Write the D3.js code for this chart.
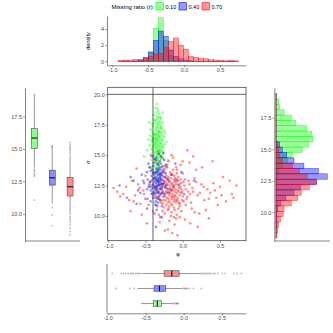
<!DOCTYPE html>
<html>
<head>
<meta charset="utf-8">
<script src="https://cdn.jsdelivr.net/npm/d3@7"></script>
<style>
body { margin: 0; background: #fff; }
</style>
</head>
<body>
<div id="chart-area"></div>
<script>

// ---- data ----

var groups = ["0.10", "0.40", "0.70"];
var groupColors = ["#00ff00", "#0000ff", "#ff0000"];

// top histogram of phi: density per bin, bins of 0.07 starting at -0.92
var phiBinStart = -0.92, phiBinWidth = 0.07;
var phiDensGreen = [0,0,0,0,0,0.15,1.25,4.1,5.4,2.6,0.7,0.1,0,0,0,0,0,0,0,0,0,0,0,0];
var phiDensBlue  = [0,0.03,0,0.03,0.1,0.5,1.1,2.6,3.75,3.1,1.4,0.6,0.3,0.15,0.05,0,0,0,0,0,0,0,0,0];
var phiDensRed   = [0.1,0.15,0.15,0.2,0.25,0.4,0.6,0.9,1.0,1.75,2.45,2.9,2.0,1.5,0.6,0.45,0.35,0.3,0.2,0.15,0.1,0.05,0.1,0.05];

// right histogram of sigma: density per bin (bottom up), bins of 0.424 starting at 7.96
var sigBinStart = 7.96, sigBinWidth = 0.424;
var sigDensGreen = [0,0,0,0,0,0,0,0,0,0.005,0.01,0.01,0.03,0.07,0.13,0.18,0.29,0.365,0.41,0.40,0.34,0.22,0.17,0.09,0.04,0.03,0.01];
var sigDensBlue  = [0,0,0.01,0.01,0.01,0.02,0.05,0.11,0.20,0.27,0.45,0.57,0.47,0.31,0.20,0.12,0.07,0.04,0,0,0,0,0,0,0,0,0];
var sigDensRed   = [0.01,0.02,0.03,0.05,0.08,0.09,0.17,0.24,0.28,0.37,0.45,0.35,0.26,0.18,0.07,0.04,0.03,0.02,0,0,0,0,0,0,0,0,0];

// boxplot of sigma (left): [lower whisker, q1, median, q3, upper whisker]
var sigBoxGreen = [13.57, 15.03, 15.84, 16.56, 18.93];
var sigBoxBlue  = [10.82, 12.22, 12.78, 13.37, 15.05];
var sigBoxRed   = [9.92, 11.38, 12.09, 12.81, 14.46];
var sigOutGreen = [19.0, 19.1, 19.2, 13.45, 13.35, 13.25, 13.1, 13.0, 12.9, 11.07];
var sigOutBlue  = [15.12, 15.17, 15.22, 10.48, 9.92, 9.1];
var sigOutRed   = [14.6, 14.75, 14.9, 15.0, 15.1, 15.2, 15.35, 15.5, 9.8, 9.65, 9.5, 9.35, 9.15, 8.9, 8.65, 8.4];

// boxplot of phi (bottom)
var phiBoxGreen = [-0.545, -0.40, -0.347, -0.294, -0.156];
var phiBoxBlue  = [-0.61, -0.39, -0.32, -0.235, -0.02];
var phiBoxRed   = [-0.55, -0.258, -0.156, -0.06, 0.23];
var phiOutGreen = [-0.55, -0.15, -0.13, -0.12, -0.10, -0.09, -0.08, -0.07];
var phiOutBlue  = [-0.89, -0.71, -0.65, -0.01, 0.01, 0.02, 0.04, 0.05, 0.08, 0.13, 0.23];
var phiOutRed   = [-0.94, -0.82, -0.79, -0.76, -0.73, -0.70, -0.68, -0.66, -0.63, -0.61, -0.59, -0.57,
                   0.24, 0.26, 0.28, 0.30, 0.32, 0.34, 0.36, 0.39, 0.41, 0.45, 0.51, 0.54, 0.66, 0.70, 0.76];

// scatter points [phi, sigma]
var scatterGreen = [
  [-0.35,15.8],[-0.33,16.4],[-0.38,15.2],[-0.30,16.9],[-0.36,17.3],[-0.32,15.0],[-0.40,16.1],[-0.28,15.6],[-0.34,14.6],[-0.37,16.7],
  [-0.31,17.8],[-0.39,14.9],[-0.27,16.2],[-0.35,18.2],[-0.42,15.5],[-0.33,13.9],[-0.29,14.3],[-0.36,16.0],[-0.38,17.6],[-0.32,16.6],
  [-0.26,15.1],[-0.41,16.9],[-0.34,15.4],[-0.30,14.8],[-0.37,14.1],[-0.35,17.0],[-0.31,15.9],[-0.39,16.4],[-0.33,18.6],[-0.28,17.2],
  [-0.44,15.8],[-0.36,13.6],[-0.30,16.0],[-0.34,16.8],[-0.38,15.6],[-0.32,14.4],[-0.25,16.5],[-0.40,17.4],[-0.35,15.3],[-0.29,15.4],
  [-0.37,18.9],[-0.33,17.5],[-0.31,13.4],[-0.42,14.6],[-0.27,17.7],[-0.36,16.3],[-0.34,14.0],[-0.39,15.0],[-0.30,18.1],[-0.35,16.5],
  [-0.46,16.3],[-0.32,15.7],[-0.28,14.0],[-0.38,16.8],[-0.33,15.1],[-0.24,15.9],[-0.41,15.2],[-0.36,17.9],[-0.31,16.2],[-0.35,14.5],
  [-0.29,16.7],[-0.37,15.9],[-0.34,17.2],[-0.40,13.8],[-0.32,17.0],[-0.26,14.7],[-0.38,14.3],[-0.33,16.1],[-0.30,15.3],[-0.36,15.5],
  [-0.43,17.1],[-0.35,19.2],[-0.31,14.9],[-0.39,17.9],[-0.27,15.3],[-0.34,15.6],[-0.37,13.2],[-0.32,18.4],[-0.29,17.4],[-0.41,16.5],
  [-0.22,16.1],[-0.36,14.8],[-0.33,16.9],[-0.38,16.2],[-0.30,17.6],[-0.35,15.1],[-0.48,15.4],[-0.32,13.7],[-0.28,16.3],[-0.40,15.7],
  [-0.34,18.0],[-0.37,16.6],[-0.31,15.5],[-0.25,17.0],[-0.36,12.9],[-0.33,14.2],[-0.39,18.3],[-0.29,15.0],[-0.35,16.2],[-0.42,13.9],
  [-0.30,12.6],[-0.37,12.3],[-0.33,11.9],[-0.52,14.9],[-0.20,14.6],[-0.45,17.7],[-0.27,18.5],[-0.38,11.1],[-0.34,12.7],[-0.31,13.1],
  [-0.34,16.3],[-0.31,15.2],[-0.37,17.1],[-0.29,16.0],[-0.40,15.4],[-0.33,17.7],[-0.36,14.4],[-0.28,15.8],[-0.38,16.0],[-0.32,16.9],
  [-0.35,14.9],[-0.30,17.2],[-0.39,16.7],[-0.34,15.1],[-0.27,16.6],[-0.36,18.5],[-0.32,15.4],[-0.41,17.6],[-0.30,14.6],[-0.35,16.7],
  [-0.37,15.3],[-0.33,14.7],[-0.29,18.0],[-0.38,14.7],[-0.31,16.5],[-0.34,17.4],[-0.40,16.3],[-0.26,15.7],[-0.36,15.7],[-0.32,18.1],
  [-0.35,13.8],[-0.39,15.8],[-0.30,15.7],[-0.33,16.6],[-0.37,17.8],[-0.28,16.9],[-0.42,16.2],[-0.34,14.3],[-0.31,17.3],[-0.36,16.1],
  [-0.24,16.8],[-0.38,13.5],[-0.33,15.9],[-0.30,16.4],[-0.35,17.6],[-0.44,16.6],[-0.29,14.7],[-0.37,16.4],[-0.32,14.1],[-0.34,18.8]
];
var scatterBlue = [
  [-0.33,12.8],[-0.30,13.3],[-0.37,12.4],[-0.25,12.9],[-0.40,13.1],[-0.35,12.1],[-0.28,13.6],[-0.32,12.6],[-0.42,12.9],[-0.22,12.5],
  [-0.36,13.9],[-0.31,12.2],[-0.38,13.4],[-0.27,12.0],[-0.34,13.0],[-0.45,12.6],[-0.29,11.8],[-0.33,14.2],[-0.39,11.9],[-0.24,13.2],
  [-0.36,12.7],[-0.30,12.9],[-0.43,13.7],[-0.35,11.6],[-0.26,13.8],[-0.32,13.5],[-0.41,12.3],[-0.28,12.4],[-0.37,13.2],[-0.20,13.0],
  [-0.34,11.4],[-0.47,13.0],[-0.31,14.5],[-0.38,12.0],[-0.23,12.3],[-0.35,13.6],[-0.29,13.1],[-0.40,11.5],[-0.33,12.5],[-0.26,11.6],
  [-0.44,14.0],[-0.36,11.2],[-0.30,13.8],[-0.52,12.7],[-0.32,11.9],[-0.18,12.8],[-0.39,14.4],[-0.34,12.9],[-0.27,14.1],[-0.42,11.8],
  [-0.37,10.9],[-0.31,13.2],[-0.24,11.8],[-0.35,14.8],[-0.29,12.7],[-0.48,12.2],[-0.33,11.1],[-0.21,14.0],[-0.40,13.5],[-0.36,12.2],
  [-0.55,13.4],[-0.28,10.8],[-0.32,15.1],[-0.15,13.4],[-0.43,11.2],[-0.38,12.8],[-0.30,11.3],[-0.25,14.6],[-0.46,14.3],[-0.34,13.3],
  [-0.60,12.1],[-0.19,11.9],[-0.35,10.5],[-0.41,14.9],[-0.27,12.6],[-0.12,12.4],[-0.50,11.4],[-0.33,13.7],[-0.38,10.2],[-0.23,13.5],
  [-0.66,12.9],[-0.08,13.0],[-0.30,9.9],[-0.44,12.4],[-0.36,14.6],[-0.16,12.1],[-0.57,11.9],[-0.29,14.9],[-0.70,13.2],[-0.05,12.6],
  [-0.85,12.5],[-0.36,9.1],[0.02,11.8],[-0.62,11.0],[0.15,12.9],[-0.10,14.3],[-0.48,10.6],[-0.26,15.2],[-0.75,11.5],[-0.02,13.6],
  [-0.35,12.9],[-0.31,12.5],[-0.38,13.0],[-0.28,13.0],[-0.33,13.4],[-0.40,12.6],[-0.30,12.3],[-0.36,13.6],[-0.26,12.7],[-0.42,13.3],
  [-0.34,12.3],[-0.29,13.4],[-0.37,11.8],[-0.32,13.9],[-0.39,12.5],[-0.24,12.4],[-0.35,12.5],[-0.30,14.0],[-0.44,12.8],[-0.33,12.0],
  [-0.27,13.3],[-0.36,13.1],[-0.31,11.7],[-0.41,13.8],[-0.29,12.2],[-0.34,14.3],[-0.38,12.3],[-0.22,13.1],[-0.46,12.4],[-0.32,12.8],
  [-0.35,11.9],[-0.28,12.6],[-0.39,13.6],[-0.33,13.1],[-0.25,13.6],[-0.43,12.1],[-0.30,13.5],[-0.36,12.4],[-0.31,13.0],[-0.40,14.1],
  [-0.20,12.2],[-0.37,11.5],[-0.34,13.8],[-0.27,11.9],[-0.48,13.6],[-0.32,11.4],[-0.38,14.7],[-0.23,14.2],[-0.53,12.9],[-0.35,10.9]
];
var scatterRed = [
  [-0.15,12.1],[-0.10,11.6],[-0.20,12.6],[-0.05,12.3],[-0.25,11.8],[-0.12,13.0],[-0.18,11.2],[-0.08,12.8],[-0.22,13.3],[-0.02,11.9],
  [-0.28,12.2],[-0.14,10.9],[-0.17,13.6],[0.02,12.5],[-0.30,12.9],[-0.09,11.3],[-0.21,11.5],[-0.13,12.4],[-0.26,13.7],[0.05,11.4],
  [-0.19,10.6],[-0.06,13.2],[-0.32,11.6],[-0.11,12.0],[-0.24,12.5],[0.08,12.9],[-0.16,11.0],[-0.35,12.4],[-0.04,10.8],[-0.23,14.1],
  [-0.13,13.8],[0.10,11.8],[-0.29,11.1],[-0.07,12.1],[-0.38,13.1],[-0.18,12.9],[0.00,13.5],[-0.27,10.4],[-0.11,11.7],[-0.20,13.0],
  [0.13,12.3],[-0.33,12.0],[-0.15,10.3],[-0.02,12.7],[-0.41,11.9],[-0.09,14.0],[-0.25,12.7],[0.04,10.9],[-0.17,12.2],[-0.36,13.5],
  [-0.12,11.4],[0.16,13.1],[-0.22,10.9],[-0.05,11.1],[-0.30,14.3],[-0.14,12.6],[-0.44,12.8],[0.07,12.0],[-0.19,14.5],[-0.08,10.1],
  [-0.26,11.3],[0.20,11.7],[-0.10,12.9],[-0.47,11.4],[-0.03,14.2],[-0.34,10.8],[-0.16,13.4],[0.12,10.6],[-0.21,11.9],[-0.50,13.3],
  [-0.06,12.5],[0.25,12.6],[-0.28,9.9],[-0.13,14.8],[-0.53,12.1],[0.01,11.2],[-0.37,14.6],[-0.18,9.6],[0.18,13.8],[-0.24,13.9],
  [-0.57,11.0],[0.29,11.3],[-0.09,9.8],[-0.40,10.4],[0.09,14.4],[-0.60,12.6],[-0.15,15.0],[0.33,12.2],[-0.31,9.5],[-0.02,10.4],
  [-0.64,11.7],[0.22,10.2],[-0.45,14.0],[0.37,11.9],[-0.11,9.3],[-0.68,12.9],[0.14,14.9],[-0.20,8.9],[0.41,12.7],[-0.72,11.3],
  [0.03,9.7],[-0.55,10.1],[0.45,11.5],[-0.33,15.3],[-0.76,12.4],[0.26,14.0],[-0.14,8.6],[0.50,12.4],[-0.80,11.8],[0.06,15.4],
  [-0.88,12.0],[0.54,13.2],[-0.48,9.4],[0.31,10.5],[-0.93,12.3],[0.58,11.2],[-0.07,8.4],[0.63,12.9],[-0.70,10.4],[0.40,14.5],
  [0.68,11.5],[-0.84,11.6],[0.72,12.5],[0.66,11.8],[0.35,9.8],[-0.62,13.9],[0.47,10.9],[-0.24,8.8],[0.20,9.1],[-0.43,15.0],
  [-0.17,12.3],[-0.07,11.5],[-0.23,12.0],[-0.03,12.4],[-0.12,10.7],[-0.20,11.1],[-0.08,13.5],[-0.27,12.4],[0.00,11.6],[-0.14,11.8],
  [-0.10,12.2],[-0.19,13.2],[-0.04,11.0],[-0.30,11.3],[0.03,13.0],[-0.16,10.0],[-0.22,12.8],[-0.01,12.0],[-0.11,13.3],[-0.25,10.7],
  [-0.13,12.2],[-0.18,11.7],[-0.09,12.6],[-0.21,12.3],[-0.04,11.7],[-0.15,11.4],[-0.11,12.8],[-0.24,11.6],[-0.06,12.9],[-0.17,11.9],
  [-0.02,12.2],[-0.20,12.0],[-0.12,11.2],[-0.26,12.9],[-0.08,11.9],[-0.15,12.7],[-0.29,11.9],[0.01,12.8],[-0.19,11.4],[-0.10,13.1],
  [-0.23,11.3],[-0.05,12.0],[-0.16,13.1],[-0.31,12.6],[-0.07,11.3],[-0.13,11.6],[0.04,12.2],[-0.22,12.6],[-0.12,12.5],[-0.27,11.0],
  [-0.03,13.0],[-0.18,10.8],[-0.09,11.1],[-0.25,13.2],[0.06,11.6],[-0.14,13.4],[-0.20,10.5],[-0.01,11.3],[-0.33,11.5],[-0.11,10.5],
  [0.09,12.6],[-0.17,12.5],[-0.06,10.6],[-0.28,13.5],[-0.15,11.6],[0.11,11.1],[-0.36,12.2],[-0.08,13.8],[-0.21,14.2],[0.14,12.0],
  [-0.39,11.7],[-0.04,9.9],[-0.24,10.2],[0.18,12.8],[-0.12,9.9],[0.00,14.5],[-0.42,12.5],[0.23,11.9],[-0.46,10.9],[0.28,12.4],
  [-0.32,10.1],[0.35,11.4],[-0.52,11.8],[0.16,10.3],[-0.58,12.3],[0.43,12.1],[-0.27,14.8],[0.10,9.4],[-0.66,11.2],[0.52,11.7]
];

var sigRefLine = 20, phiRefLine = -0.4;

// ---- drawing ----

var fontFam = "Liberation Sans, Arial, sans-serif";

var svg = d3.select("#chart-area").append("svg")
    .attr("width", 333)
    .attr("height", 333);

function fmt1(d) { return d.toFixed(1); }

function styleAxis(g) {
  g.attr("font-size", 5.5).attr("font-family", fontFam);
  g.selectAll(".domain").attr("stroke", "#333").attr("stroke-width", 0.6);
  g.selectAll(".tick line").attr("stroke", "#333").attr("stroke-width", 0.5);
  g.selectAll(".tick text").attr("fill", "#4d4d4d");
}

var phiDens = [phiDensGreen, phiDensBlue, phiDensRed];
var sigDens = [sigDensGreen, sigDensBlue, sigDensRed];

// --- top histogram ---
var hx = d3.scaleLinear().domain([-1.074, 0.862]).range([107, 246]);
var hy = d3.scaleLinear().domain([-0.5, 5.62]).range([65.3, 16]);

var topHist = svg.append("g");
phiDens.forEach(function(dens, gi) {
  topHist.append("g").selectAll("rect")
    .data(dens)
    .enter()
    .append("rect")
    .attr("x", (d, i) => hx(phiBinStart + i * phiBinWidth))
    .attr("width", (d, i) => hx(phiBinStart + (i + 1) * phiBinWidth) - hx(phiBinStart + i * phiBinWidth))
    .attr("y", d => hy(d))
    .attr("height", d => Math.max(hy(0) - hy(d), 0.1))
    .attr("fill", groupColors[gi])
    .attr("fill-opacity", 0.4)
    .attr("stroke", groupColors[gi])
    .attr("stroke-opacity", 0.75)
    .attr("stroke-width", 0.5);
});

svg.append("g")
  .attr("transform", "translate(107,0)")
  .call(d3.axisLeft(hy).tickValues([0, 2, 4]).tickFormat(d3.format("d")).tickSize(2).tickSizeOuter(0).tickPadding(1))
  .call(styleAxis);
svg.append("g")
  .attr("transform", "translate(0,65.3)")
  .call(d3.axisBottom(hx).tickValues([-1, -0.5, 0, 0.5]).tickFormat(fmt1).tickSize(2).tickSizeOuter(0).tickPadding(1))
  .call(styleAxis);

svg.append("text")
  .attr("transform", "translate(90,41) rotate(-90)")
  .attr("text-anchor", "middle")
  .attr("font-size", 5.5).attr("font-family", fontFam)
  .text("density");

// legend
svg.append("text")
  .attr("x", 111.5).attr("y", 8.7)
  .attr("font-size", 6).attr("font-family", fontFam)
  .text("Missing ratio (r):");
var legX = [156, 179, 202];
groups.forEach(function(g, gi) {
  svg.append("rect")
    .attr("x", legX[gi]).attr("y", 2.7).attr("width", 7.3).attr("height", 7.3)
    .attr("fill", groupColors[gi]).attr("fill-opacity", 0.4)
    .attr("stroke", groupColors[gi]).attr("stroke-width", 0.6);
  svg.append("text")
    .attr("x", legX[gi] + 9.5).attr("y", 8.6)
    .attr("font-size", 5.5).attr("font-family", fontFam)
    .text(g);
});

// --- main scatter ---
var sx = d3.scaleLinear().domain([-1.008, 0.849]).range([107.7, 246]);
var sy = d3.scaleLinear().domain([7.97, 20.58]).range([240.7, 87.3]);

var scatterSets = [scatterGreen, scatterBlue, scatterRed];
scatterSets.forEach(function(pts, gi) {
  svg.append("g").selectAll("circle")
    .data(pts)
    .enter()
    .append("circle")
    .attr("cx", d => sx(d[0]))
    .attr("cy", d => sy(d[1]))
    .attr("r", 1.35)
    .attr("fill", groupColors[gi])
    .attr("fill-opacity", 0.42);
});

svg.append("line")
  .attr("x1", sx.range()[0]).attr("x2", sx.range()[1])
  .attr("y1", sy(sigRefLine)).attr("y2", sy(sigRefLine))
  .attr("stroke", "#222").attr("stroke-width", 0.7);
svg.append("line")
  .attr("x1", sx(phiRefLine)).attr("x2", sx(phiRefLine))
  .attr("y1", sy.range()[1]).attr("y2", sy.range()[0])
  .attr("stroke", "#222").attr("stroke-width", 0.7);

svg.append("rect")
  .attr("x", 107.7).attr("y", 87.3)
  .attr("width", 246 - 107.7).attr("height", 240.7 - 87.3)
  .attr("fill", "none").attr("stroke", "#333").attr("stroke-width", 0.7);

var sAxisL = svg.append("g")
  .attr("transform", "translate(107.7,0)")
  .call(d3.axisLeft(sy).tickValues([10, 12.5, 15, 17.5, 20]).tickFormat(fmt1).tickSize(2).tickSizeOuter(0).tickPadding(1))
  .call(styleAxis);
sAxisL.select(".domain").remove();
var sAxisB = svg.append("g")
  .attr("transform", "translate(0,240.7)")
  .call(d3.axisBottom(sx).tickValues([-1, -0.5, 0, 0.5]).tickFormat(fmt1).tickSize(2).tickSizeOuter(0).tickPadding(1))
  .call(styleAxis);
sAxisB.select(".domain").remove();

svg.append("text")
  .attr("x", 178).attr("y", 256)
  .attr("text-anchor", "middle")
  .attr("font-size", 5.5).attr("font-family", fontFam)
  .text("φ");
svg.append("text")
  .attr("transform", "translate(90,162) rotate(-90)")
  .attr("text-anchor", "middle")
  .attr("font-size", 5.5).attr("font-family", fontFam)
  .text("σ");

// --- left boxplot (sigma) ---
var ly = d3.scaleLinear().domain([7.92, 19.69]).range([241, 88]);
var lx = d3.scaleBand().domain(groups).range([25.5, 79]);

var sigBoxes = [sigBoxGreen, sigBoxBlue, sigBoxRed];
var sigOuts = [sigOutGreen, sigOutBlue, sigOutRed];
var boxW = 6;

groups.forEach(function(g, gi) {
  var s = sigBoxes[gi];
  var cx = lx(g) + lx.bandwidth() / 2;
  var bg = svg.append("g");
  bg.append("line").attr("x1", cx).attr("x2", cx).attr("y1", ly(s[0])).attr("y2", ly(s[1]))
    .attr("stroke", "#555").attr("stroke-width", 0.6);
  bg.append("line").attr("x1", cx).attr("x2", cx).attr("y1", ly(s[3])).attr("y2", ly(s[4]))
    .attr("stroke", "#555").attr("stroke-width", 0.6);
  bg.append("rect")
    .attr("x", cx - boxW / 2).attr("width", boxW)
    .attr("y", ly(s[3])).attr("height", ly(s[1]) - ly(s[3]))
    .attr("fill", groupColors[gi]).attr("fill-opacity", 0.45)
    .attr("stroke", "#333").attr("stroke-width", 0.5);
  bg.append("line").attr("x1", cx - boxW / 2).attr("x2", cx + boxW / 2).attr("y1", ly(s[2])).attr("y2", ly(s[2]))
    .attr("stroke", "#000").attr("stroke-width", 1);
  bg.selectAll("circle")
    .data(sigOuts[gi])
    .enter()
    .append("circle")
    .attr("cx", cx).attr("cy", d => ly(d)).attr("r", 0.9)
    .attr("fill", "#444").attr("fill-opacity", 0.35);
});

svg.append("g")
  .attr("transform", "translate(25,0)")
  .call(d3.axisLeft(ly).tickValues([10, 12.5, 15, 17.5]).tickFormat(fmt1).tickSize(2).tickSizeOuter(0).tickPadding(1))
  .call(styleAxis);
svg.append("line").attr("x1", 25).attr("x2", 80).attr("y1", 241).attr("y2", 241)
  .attr("stroke", "#333").attr("stroke-width", 0.6);

// --- right histogram (sigma) ---
var ry = d3.scaleLinear().domain([7.72, 19.86]).range([241, 88]);
var rx = d3.scaleLinear().domain([0, 0.6]).range([276, 330]);

sigDens.forEach(function(dens, gi) {
  svg.append("g").selectAll("rect")
    .data(dens)
    .enter()
    .append("rect")
    .attr("y", (d, i) => ry(sigBinStart + (i + 1) * sigBinWidth))
    .attr("height", (d, i) => ry(sigBinStart + i * sigBinWidth) - ry(sigBinStart + (i + 1) * sigBinWidth))
    .attr("x", rx(0))
    .attr("width", d => Math.max(rx(d) - rx(0), 0.1))
    .attr("fill", groupColors[gi])
    .attr("fill-opacity", 0.4)
    .attr("stroke", groupColors[gi])
    .attr("stroke-opacity", 0.75)
    .attr("stroke-width", 0.5);
});

svg.append("g")
  .attr("transform", "translate(274.3,0)")
  .call(d3.axisLeft(ry).tickValues([10, 12.5, 15, 17.5]).tickFormat(fmt1).tickSize(2).tickSizeOuter(0).tickPadding(1))
  .call(styleAxis);
svg.append("line").attr("x1", 274.3).attr("x2", 330).attr("y1", 241).attr("y2", 241)
  .attr("stroke", "#333").attr("stroke-width", 0.6);

// --- bottom boxplot (phi) ---
var bx = d3.scaleLinear().domain([-1.009, 0.82]).range([107, 246]);
var byGroups = ["0.70", "0.40", "0.10"];
var by = d3.scaleBand().domain(byGroups).range([266, 311]);

var phiBoxes = {"0.10": phiBoxGreen, "0.40": phiBoxBlue, "0.70": phiBoxRed};
var phiOuts = {"0.10": phiOutGreen, "0.40": phiOutBlue, "0.70": phiOutRed};
var boxH = 5.5;

groups.forEach(function(g, gi) {
  var s = phiBoxes[g];
  var cy = by(g) + by.bandwidth() / 2;
  var bg = svg.append("g");
  bg.append("line").attr("y1", cy).attr("y2", cy).attr("x1", bx(s[0])).attr("x2", bx(s[1]))
    .attr("stroke", "#555").attr("stroke-width", 0.6);
  bg.append("line").attr("y1", cy).attr("y2", cy).attr("x1", bx(s[3])).attr("x2", bx(s[4]))
    .attr("stroke", "#555").attr("stroke-width", 0.6);
  bg.append("rect")
    .attr("y", cy - boxH / 2).attr("height", boxH)
    .attr("x", bx(s[1])).attr("width", bx(s[3]) - bx(s[1]))
    .attr("fill", groupColors[gi]).attr("fill-opacity", 0.45)
    .attr("stroke", "#333").attr("stroke-width", 0.5);
  bg.append("line").attr("y1", cy - boxH / 2).attr("y2", cy + boxH / 2).attr("x1", bx(s[2])).attr("x2", bx(s[2]))
    .attr("stroke", "#000").attr("stroke-width", 1);
  bg.selectAll("circle")
    .data(phiOuts[g])
    .enter()
    .append("circle")
    .attr("cy", cy).attr("cx", d => bx(d)).attr("r", 0.9)
    .attr("fill", "#444").attr("fill-opacity", 0.35);
});

svg.append("line").attr("x1", 107).attr("x2", 107).attr("y1", 264).attr("y2", 313.3)
  .attr("stroke", "#333").attr("stroke-width", 0.6);
svg.append("g")
  .attr("transform", "translate(0,313.3)")
  .call(d3.axisBottom(bx).tickValues([-1, -0.5, 0, 0.5]).tickFormat(fmt1).tickSize(2).tickSizeOuter(0).tickPadding(1))
  .call(styleAxis);

</script>
</body>
</html>
